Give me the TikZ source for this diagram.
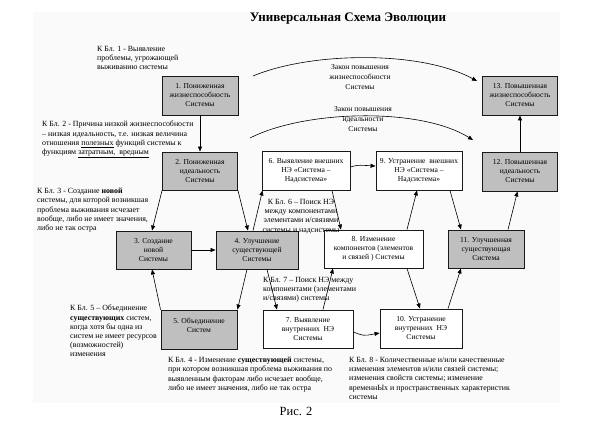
\documentclass[tikz,border=0pt]{standalone}
\usepackage{fontspec}
\setmainfont{Liberation Serif}
\usetikzlibrary{arrows.meta,calc}
\begin{document}
\begin{tikzpicture}[x=1pt,y=-1pt,
  gbox/.style={draw=black!90, line width=0.9pt, fill=black!25, align=center,
    font=\fontsize{7.6}{9}\selectfont, inner sep=1pt},
  wbox/.style={gbox, fill=white},
  note/.style={align=left, inner sep=0pt, anchor=north west,
    font=\fontsize{7.9}{9.2}\selectfont},
  lbl/.style={align=center, inner sep=0pt, font=\fontsize{7.6}{10}\selectfont},
  arr/.style={-{Triangle[length=5pt,width=4pt]}, line width=0.6pt}]
\useasboundingbox (0,0) rectangle (600,429);
\fill[black!2] (33,12) rectangle (560,403);

\node[font=\bfseries\fontsize{13}{15}\selectfont] (title) at (348,19) {Универсальная Схема Эволюции};
\node[font=\fontsize{12.5}{14}\selectfont] (fig) at (296,411) {Рис. 2};

% boxes
\node[gbox, minimum width=76pt, minimum height=39pt] (b1) at (200,95.5) {1. Пониженная\\жизнеспособность\\Системы};
\node[gbox, minimum width=75pt, minimum height=39pt] (b13) at (520,95.5) {13. Повышенная\\жизнеспособность\\Системы};
\node[gbox, minimum width=75pt, minimum height=38pt] (b2) at (200,171) {2. Пониженная\\идеальность\\Системы};
\node[wbox, minimum width=88pt, minimum height=39pt] (b6) at (306,170.5) {6. Выявление внешних\\НЭ «Система –\\Надсистема»};
\node[wbox, minimum width=86pt, minimum height=39pt] (b9) at (419,170.5) {9. Устранение\ \ внешних\\НЭ «Система –\\Надсистема»};
\node[gbox, minimum width=75pt, minimum height=39pt] (b12) at (520,171.5) {12. Повышенная\\идеальность\\Системы};
\node[gbox, minimum width=75pt, minimum height=38pt] (b3) at (153.5,250) {3. Создание\\новой\\Системы};
\node[gbox, minimum width=82pt, minimum height=38pt] (b4) at (257,250) {4. Улучшение\\существующей\\Системы};
\node[wbox, minimum width=99pt, minimum height=38pt] (b8) at (373.5,249) {8. Изменение\\компонентов (элементов\\и связей ) Системы};
\node[gbox, minimum width=76pt, minimum height=38pt] (b11) at (486,249) {11. Улучшенная\\существующая\\Система};
\node[gbox, minimum width=76pt, minimum height=39pt] (b5) at (199,329.5) {5. Объединение\\Систем\\\mbox{}};
\node[wbox, minimum width=90pt, minimum height=38pt] (b7) at (308,329) {7. Выявление\\внутренних\ \ НЭ\\Системы};
\node[wbox, minimum width=82pt, minimum height=39pt] (b10) at (421,328.5) {10. Устранение\\внутренних\ \ НЭ\\Системы};

% arcs
\coordinate (a1s) at (253,76);
\coordinate (a1e) at (477,81);
\coordinate (a2s) at (250,138);
\coordinate (a2e) at (473,140);
\draw[arr] (a1s) .. controls (310,52) and (420,50) .. (a1e);
\draw[arr] (a2s) .. controls (305,110) and (420,107) .. (a2e);
\node[lbl] (l1) at (360,77) {Закон повышения\\жизнеспособности\\Системы};
\node[lbl] (l2) at (363,119) {Закон повышения\\идеальности\\Системы};

% connectors
\draw[arr] (b1.south) -- (b2.north);
\draw[arr] (b12.north) -- (b13.south);
\draw[arr] (b2.south west) -- ([xshift=-1.5pt]b3.north);
\draw[arr] (b2.south east) -- ([xshift=-9pt]b4.north);
\draw[arr] (b3.east) -- (b4.west);
\draw[arr] ([xshift=-4pt]b4.north) -- ([xshift=1pt]b6.south west);
\draw[arr] ([xshift=26pt]b6.south) -- ([xshift=-32.5pt]b8.north);
\draw[arr] ([yshift=3.5pt]b6.east) .. controls ([xshift=7pt,yshift=5.5pt]b6.east) .. ([yshift=4.5pt]b9.west);
\draw[arr] ([xshift=33.5pt]b8.north) -- ([xshift=-2pt]b9.south);
\draw[arr] ([xshift=31pt]b9.south) -- ([xshift=-25pt]b11.north);
\draw[arr] ([xshift=22pt]b11.north) -- ([xshift=-2.5pt]b12.south);
\draw[arr] ([xshift=-10pt]b4.south) -- (b5.north east);
\draw[arr] (b5.north west) -- ([xshift=-1.5pt]b3.south);
\draw[arr] ([xshift=10pt]b4.south) -- ([xshift=-31pt]b7.north);
\draw[arr] ([xshift=15pt]b7.north) -- ([xshift=-40.5pt]b8.south);
\draw[arr] ([yshift=-3pt]b7.east) .. controls ([xshift=10pt,yshift=-7pt]b7.east) .. ([yshift=-4.5pt]b10.west);
\draw[arr] ([xshift=33.5pt]b8.south) -- ([xshift=-1pt]b10.north);
\draw[arr] ([xshift=27pt]b10.north) -- ([xshift=-25pt]b11.south);

% notes
\node[note] (n1) at (97,46) {К Бл. 1 - Выявление\\проблемы, угрожающей\\выживанию системы};
\node[note] (n2) at (42,121) {К Бл. 2 - Причина низкой жизнеспособности\\– низкая идеальность, т.е. низкая величина\\отношения \underline{полезных} функций системы к\\функциям \underline{затратным,\ \ вредным}};
\node[note] (n3) at (37,188) {К Бл. 3 - Создание \textbf{новой}\\системы, для которой возникшая\\проблема выживания исчезает\\вообще, либо не имеет значения,\\либо не так остра};
\node[note, anchor=north, align=center] (n6) at (301,199) {К Бл. 6 – Поиск НЭ\\между компонентами\\элементами и/связями\\системы и надсистемы};
\node[note] (n7) at (263,277) {К Бл. 7 – Поиск НЭ между\\компонентами (элементами\\и/связями) системы};
\node[note] (n5) at (70,305) {К Бл. 5 – Объединение\\\textbf{существующих} систем,\\когда хотя бы одна из\\систем не имеет ресурсов\\(возможностей)\\изменения};
\node[note] (n4) at (168,357) {К Бл. 4 - Изменение \textbf{существующей} системы,\\при котором возникшая проблема выживания по\\выявленным факторам либо исчезает вообще,\\либо не имеет значения, либо не так остра};
\node[note] (n8) at (349,357) {К Бл. 8 - Количественные и/или качественные\\изменения элементов и/или связей системы;\\изменения свойств системы; изменение\\временнЫх и пространственных характеристик\\системы};
\end{tikzpicture}
\end{document}
